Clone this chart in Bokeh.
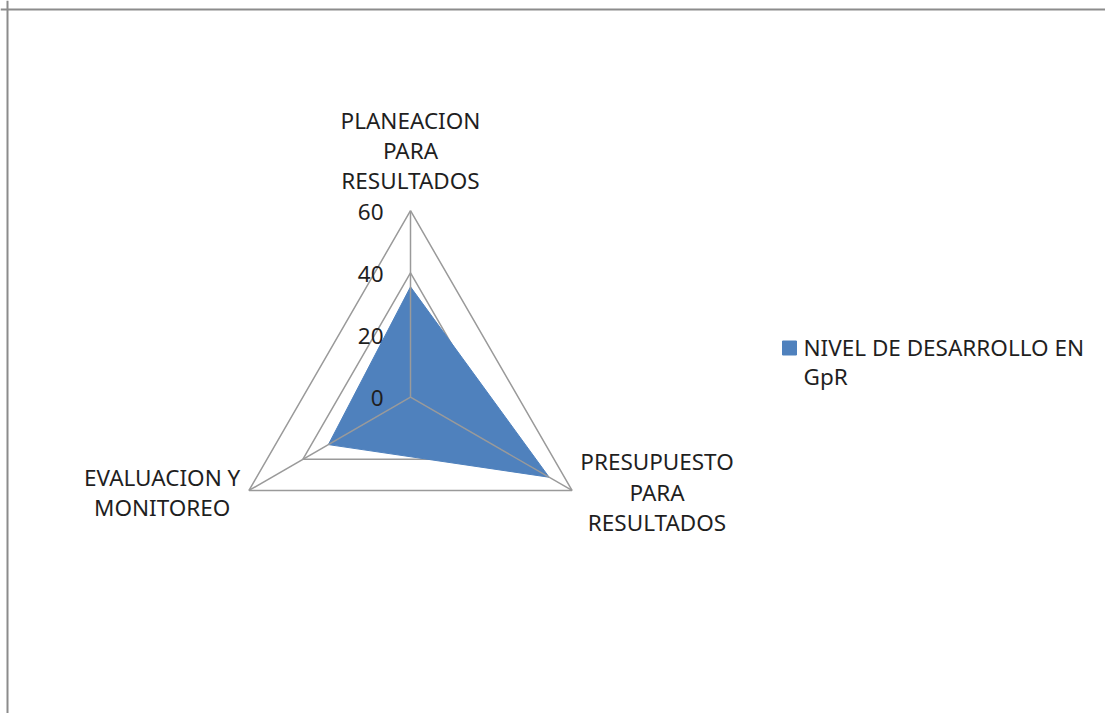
import numpy as np
from bokeh.plotting import figure
from bokeh.models import Range1d, Span
from bokeh.core.properties import value
from bokeh.embed import file_html
from bokeh.resources import INLINE

# ---- data ----
categories = ["PLANEACION PARA RESULTADOS", "PRESUPUESTO PARA RESULTADOS", "EVALUACION Y MONITOREO"]
label_lines = [["PLANEACION", "PARA", "RESULTADOS"],
               ["PRESUPUESTO", "PARA", "RESULTADOS"],
               ["EVALUACION Y", "MONITOREO"]]
values = [35.5, 51.5, 30.5]
ticks = [0, 20, 40, 60]
tick_labels = ["0", "20", "40", "60"]
series_name_lines = ["NIVEL DE DESARROLLO EN", "GpR"]

# ---- layout ----
W, H = 1105, 713
cx, cy = 410.0, 316.3
R = 186.5
vmax = 60.0
angles = np.deg2rad([90, -30, 210])
FONT = value("Noto Sans")
FS = "22.5px"
TXT = "#1f1f1f"
GRID = "#9a9a9a"
FILL = "#4F81BD"
TY = 8.0  # text vertical correction

def pt(v, a):
    return cx + v / vmax * R * np.cos(a), cy + v / vmax * R * np.sin(a)

p = figure(width=W, height=H, output_backend="svg", toolbar_location=None,
           x_range=Range1d(0, W), y_range=Range1d(0, H), min_border=0)
p.axis.visible = False
p.grid.visible = False
p.outline_line_color = None
p.background_fill_color = "white"
p.border_fill_color = "white"

# grid triangles (under fill)
for t in ticks[1:]:
    xs = [pt(t, a)[0] for a in angles] + [pt(t, angles[0])[0]]
    ys = [pt(t, a)[1] for a in angles] + [pt(t, angles[0])[1]]
    p.line(xs, ys, line_color=GRID, line_width=1.5)

# data polygon
px = [pt(v, a)[0] for v, a in zip(values, angles)]
py = [pt(v, a)[1] for v, a in zip(values, angles)]
p.patch(px, py, fill_color=FILL, line_color=FILL, line_width=1)

# spokes (over fill)
for a in angles:
    x1, y1 = pt(vmax, a)
    p.line([cx, x1], [cy, y1], line_color=GRID, line_width=1.5)

# tick labels
for t, lab in zip(ticks, tick_labels):
    x, y = pt(t, angles[0])
    p.text([cx - 27], [y - 9 + TY], text=[lab], text_font=FONT, text_font_size=FS,
           text_color=TXT, text_align="right", text_baseline="alphabetic")

# category labels
label_dx = [0, 85, -86.8]
label_base = [[82, 52, 22], [20.5, -10, -40.5], [5, -25]]
for i, a in enumerate(angles):
    vx, vy = pt(vmax, a)
    for line, off in zip(label_lines[i], label_base[i]):
        p.text([vx + label_dx[i]], [vy + off + TY], text=[line], text_font=FONT,
               text_font_size=FS, text_color=TXT, text_align="center",
               text_baseline="alphabetic")

# legend
p.scatter([789], [365.5], marker="square", size=14, fill_color=FILL, line_color=FILL)
for line, yb in zip(series_name_lines, [358, 329.5]):
    p.text([803], [yb + TY], text=[line], text_font=FONT, text_font_size=FS,
           text_color=TXT, text_align="left", text_baseline="alphabetic")

# chart-area border (top and left visible)
p.add_layout(Span(location=7, dimension="height", line_color="#8c8c8c", line_width=2))
p.add_layout(Span(location=704, dimension="width", line_color="#8c8c8c", line_width=2))

open("out.html", "w").write(file_html(p, INLINE))
